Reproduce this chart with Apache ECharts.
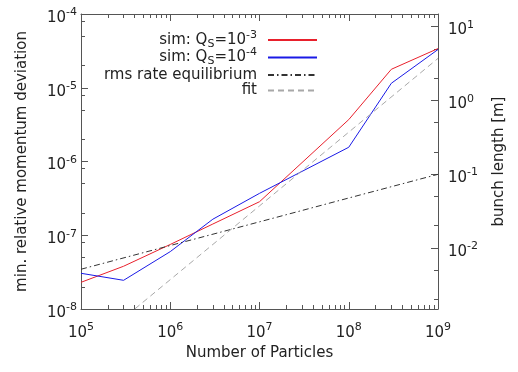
<!DOCTYPE html>
<html>
<head>
<meta charset="utf-8">
<script src="https://cdn.jsdelivr.net/npm/echarts@6/dist/echarts.min.js"></script>
<style>
  html, body { margin: 0; padding: 0; background: #fff; }
  #chart { width: 518px; height: 372px; }
</style>
</head>
<body>
<div id="chart"></div>
<script>
// data
const particles = [1e5, 3e5, 1e6, 3e6, 1e7, 1e8, 3e8, 1e9]
const simQs3 = [2.3e-8, 3.8e-8, 7.5e-8, 1.42e-7, 2.85e-7, 3.7e-6, 1.78e-5, 3.4e-5]
const simQs4 = [3.05e-8, 2.45e-8, 6.0e-8, 1.65e-7, 3.7e-7, 1.56e-6, 1.15e-5, 3.3e-5]
const rmsN = [1e5, 1e6, 1e7, 1e8, 1e9]
const rmsEq = [3.46e-8, 7.26e-8, 1.52e-7, 3.2e-7, 6.7e-7]
const fitN = [1e5, 1e6, 1e7, 1e8, 1e9]
const fitVals = [2.5e-9, 2.5e-8, 2.5e-7, 2.5e-6, 2.5e-5]

// ticks
const xMajor = [1e5, 1e6, 1e7, 1e8, 1e9]
const xDecades = [1e5, 1e6, 1e7, 1e8]
const xMinorMant = [2, 3, 4, 5, 6, 7, 8, 9]
const yMajor = [1e-8, 1e-7, 1e-6, 1e-5, 1e-4]
const yDecades = [1e-8, 1e-7, 1e-6, 1e-5]
const yMinorMant = [2, 5, 8]
const y2Major = [1e-2, 1e-1, 1, 10]
const y2Minor = [2e-3, 5e-3, 2e-2, 5e-2, 0.2, 0.5, 2, 5]
const y2Range = [1.48e-3, 14.8]

const legendNames = {
  q3: '{t|sim: Q}{sub|S}{t|=10}{sup|-3}{gap|}',
  q4: '{t|sim: Q}{sub|S}{t|=10}{sup|-4}{gap|}',
  rms: '{t|rms rate equilibrium}{gap|}',
  fit: '{t|fit}{gap|}'
}

const FONT = 'DejaVu Sans'
const TXT = '#222'
const AX = '#555'

const minorOf = (decades, mant) => decades.flatMap(d => mant.map(m => +(m * d).toPrecision(3)))
const pow10 = v => '{b|10}{s|' + Math.round(Math.log10(v)) + '}'
// x labels: base centred, exponent raised
const xRich = {
  b: { fontFamily: FONT, fontSize: 15, color: TXT },
  s: { fontFamily: FONT, fontSize: 11, color: TXT, padding: [0, 0, 11, 0] }
}
// y labels: gnuplot puts the base a bit under the tick
const yRich = {
  b: { fontFamily: FONT, fontSize: 15, color: TXT, padding: [8, 0, 0, 0] },
  s: { fontFamily: FONT, fontSize: 11, color: TXT, padding: [0, 0, 3, 0] }
}

function majorX(pos, labels) {
  return {
    type: 'log', position: pos, min: xMajor[0], max: xMajor[xMajor.length - 1],
    axisLine: { show: true, lineStyle: { color: AX, width: 1 } },
    axisTick: { show: true, inside: true, length: 7, customValues: xMajor, lineStyle: { color: AX } },
    axisLabel: labels ? { show: true, customValues: xMajor, formatter: pow10, rich: xRich, margin: 13 } : { show: false },
    splitLine: { show: false }
  }
}
function minorX(pos) {
  return {
    type: 'log', position: pos, min: xMajor[0], max: xMajor[xMajor.length - 1],
    axisLine: { show: false },
    axisTick: { show: true, inside: true, length: 4, customValues: minorOf(xDecades, xMinorMant), lineStyle: { color: AX } },
    axisLabel: { show: false },
    splitLine: { show: false }
  }
}

const chart = echarts.init(document.getElementById('chart'))
const option = {
  animation: false,
  grid: { left: 81, right: 80, top: 14, bottom: 63 },
  legend: {
    orient: 'vertical',
    align: 'right',
    right: 200,
    top: 29.5,
    padding: 0,
    itemGap: -2.5,
    itemWidth: 49,
    itemHeight: 4,
    selectedMode: false,
    itemStyle: { opacity: 0 },
    data: ['q3', 'q4', 'rms', 'fit'],
    formatter: name => legendNames[name],
    textStyle: {
      rich: {
        t: { fontFamily: FONT, fontSize: 15, color: TXT },
        sub: { fontFamily: FONT, fontSize: 11, color: TXT, padding: [8, 0, 0, 0] },
        sup: { fontFamily: FONT, fontSize: 11, color: TXT, padding: [0, 0, 10, 0] },
        gap: { fontSize: 11, width: 6, padding: [0, 0, 10, 0] }
      }
    }
  },
  xAxis: [
    Object.assign(majorX('bottom', true), {
      name: 'Number of Particles', nameLocation: 'middle', nameGap: 34,
      nameTextStyle: { fontFamily: FONT, fontSize: 15, color: TXT }
    }),
    minorX('bottom'),
    majorX('top', false),
    minorX('top')
  ],
  yAxis: [
    {
      type: 'log', position: 'left', min: yMajor[0], max: yMajor[yMajor.length - 1],
      name: 'min. relative momentum deviation', nameLocation: 'middle', nameGap: 51,
      nameTextStyle: { fontFamily: FONT, fontSize: 15, color: TXT },
      axisLine: { show: true, lineStyle: { color: AX, width: 1 } },
      axisTick: { show: true, inside: true, length: 7, customValues: yMajor, lineStyle: { color: AX } },
      axisLabel: { customValues: yMajor, formatter: pow10, rich: yRich, margin: 4 },
      splitLine: { show: false }
    },
    {
      type: 'log', position: 'left', min: yMajor[0], max: yMajor[yMajor.length - 1],
      axisLine: { show: false },
      axisTick: { show: true, inside: true, length: 4, customValues: minorOf(yDecades, yMinorMant), lineStyle: { color: AX } },
      axisLabel: { show: false },
      splitLine: { show: false }
    },
    {
      type: 'log', position: 'right', min: y2Range[0], max: y2Range[1],
      name: 'bunch length [m]', nameLocation: 'middle', nameGap: 54,
      nameTextStyle: { fontFamily: FONT, fontSize: 15, color: TXT },
      axisLine: { show: true, lineStyle: { color: AX, width: 1 } },
      axisTick: { show: true, inside: true, length: 7, customValues: y2Major, lineStyle: { color: AX } },
      axisLabel: { customValues: y2Major, formatter: pow10, rich: yRich, margin: 10 },
      splitLine: { show: false }
    },
    {
      type: 'log', position: 'right', min: y2Range[0], max: y2Range[1],
      axisLine: { show: false },
      axisTick: { show: true, inside: true, length: 4, customValues: y2Minor, lineStyle: { color: AX } },
      axisLabel: { show: false },
      splitLine: { show: false }
    }
  ],
  series: [
    {
      name: 'q3', type: 'line', symbol: 'none', clip: true,
      data: particles.map((n, i) => [n, simQs3[i]]),
      lineStyle: { color: '#e8202c', width: 1 }, itemStyle: { color: '#e8202c' }
    },
    {
      name: 'q4', type: 'line', symbol: 'none', clip: true,
      data: particles.map((n, i) => [n, simQs4[i]]),
      lineStyle: { color: '#1a1ae6', width: 1 }, itemStyle: { color: '#1a1ae6' }
    },
    {
      name: 'rms', type: 'line', symbol: 'none', clip: true,
      data: rmsN.map((n, i) => [n, rmsEq[i]]),
      lineStyle: { color: '#333', width: 1, type: [6, 3, 1.5, 3] }, itemStyle: { color: '#333' }
    },
    {
      name: 'fit', type: 'line', symbol: 'none', clip: true,
      data: fitN.map((n, i) => [n, fitVals[i]]),
      lineStyle: { color: '#a8a8a8', width: 1, type: [6, 4] }, itemStyle: { color: '#a8a8a8' }
    }
  ]
}
chart.setOption(option)
window.addEventListener('resize', () => {
  chart.resize()
})
</script>
</body>
</html>
